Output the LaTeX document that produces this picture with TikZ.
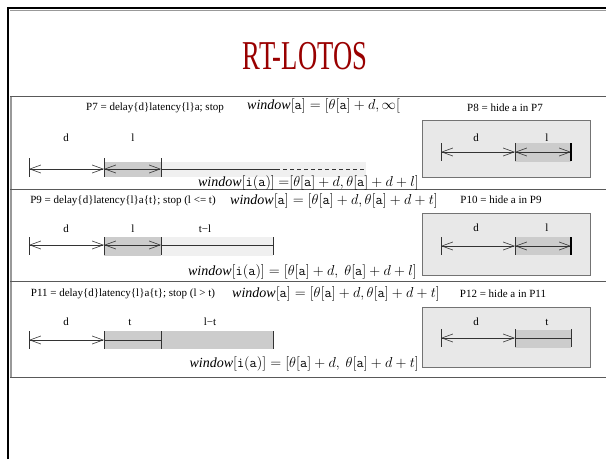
\documentclass[tikz,border=0pt]{standalone}
\usepackage{fontspec}
\setmainfont{Liberation Serif}
\newfontfamily\titlefont[FakeStretch=0.65]{Liberation Serif}
\usetikzlibrary{arrows.meta}
\definecolor{titlered}{RGB}{153,0,0}
\tikzset{tick/.style={draw=black!80,line width=0.7pt}}
\tikzset{endtick/.style={draw=black,line width=1.6pt}}
\tikzset{span/.style={draw=black!80,line width=0.6pt,{Straight Barb[length=11pt,width=8pt]}-{Straight Barb[length=11pt,width=8pt]}}}
\tikzset{plain/.style={draw=black!80,line width=0.6pt}}
\tikzset{lab/.style={font=\fontsize{11}{13}\selectfont,inner sep=1pt}}
\tikzset{eqn/.style={font=\fontsize{14}{16}\selectfont,inner sep=1pt}}
\tikzset{hidebox/.style={draw=black!55,fill=black!9,line width=1pt,inner sep=0pt}}
\tikzset{lightbar/.style={fill=black!6}}
\tikzset{darkbar/.style={fill=black!20}}
\tikzset{sepline/.style={draw=black!65,line width=1pt}}

\begin{document}
\begin{tikzpicture}[x=1pt,y=-1pt]
\useasboundingbox (0,0) rectangle (606,459);
% slide frame
\draw[black!40,line width=1pt] (10,10) -- (606,10);
\draw[line width=2.5pt] (8,459) -- (8,8) -- (606,8);
\node[text=titlered,font=\titlefont\fontsize{41}{41}\selectfont] (title) at (305,56) {RT-LOTOS};

% table lines
\draw[black!40,line width=2pt] (11,96) -- (11,377);
\foreach \y in {96,189,281,377} \draw[sepline] (10,\y) -- (606,\y);

% row 1: P7 / P8
\node[lab] (p7) at (155,108) {P7 = delay\{d\}latency\{l\}a; stop};
\node[eqn,anchor=west] (w7) at (246,106) {$\mathit{window}[\mathtt{a}] = [\theta[\mathtt{a}] + d, \infty[$};
\node[lab] (p8) at (505,108) {P8 = hide a in P7};
\fill[lightbar] (161,162) rectangle (366,177);
\fill[darkbar] (104,162) rectangle (161,177);
\coordinate (pa) at (29,169);
\coordinate (pb) at (104,169);
\coordinate (pc) at (161,169);
\coordinate (pd) at (276,169);
\coordinate (pe) at (366,169);
\draw[span] (pa) -- (pb);
\draw[span] (pb) -- (pc);
\draw[plain] (pc) -- (pd);
\draw[plain,dashed,dash pattern=on 4pt off 3pt] (pd) -- (pe);
\foreach \c in {pa,pb,pc} \draw[tick] (\c) ++(0,-11) -- ++(0,19);
\node[lab] (d7) at (66,138) {d};
\node[lab] (l7) at (133,138) {l};
\node[eqn,anchor=east] (i7) at (420,183) {$\mathit{window}[\mathtt{i}(\mathtt{a})]\ {=}[\theta[\mathtt{a}] + d, \theta[\mathtt{a}] + d + l]$};
\node[hidebox,minimum width=168pt,minimum height=57pt] (h8) at (506,148.5) {};
\fill[darkbar] (515,143) rectangle (571,162);
\coordinate (qa) at (441,152);
\coordinate (qb) at (515,152);
\coordinate (qc) at (571,152);
\draw[span] (qa) -- (qb);
\draw[span] (qb) -- (qc);
\foreach \c in {qa,qb} \draw[tick] (\c) ++(0,-9) -- ++(0,18);
\draw[endtick] (qc) ++(0,-9) -- ++(0,18);
\node[lab] (d8) at (476,138) {d};
\node[lab] (l8) at (547,138) {l};

% row 2: P9 / P10
\node[lab] (p9) at (123,201) {P9 = delay\{d\}latency\{l\}a\{t\}; stop (l <= t)};
\node[eqn,anchor=west] (w9) at (229,201) {$\mathit{window}[\mathtt{a}] = [\theta[\mathtt{a}] + d, \theta[\mathtt{a}] + d + t]$};
\node[lab] (p10) at (501,200) {P10 = hide a in P9};
\fill[lightbar] (161,237) rectangle (273,256);
\fill[darkbar] (104,237) rectangle (161,256);
\coordinate (ra) at (29,245);
\coordinate (rb) at (104,245);
\coordinate (rc) at (161,245);
\coordinate (rd) at (273,245);
\draw[span] (ra) -- (rb);
\draw[span] (rb) -- (rc);
\draw[plain] (rc) -- (rd);
\foreach \c in {ra,rb,rc,rd} \draw[tick] (\c) ++(0,-8) -- ++(0,18);
\node[lab] (d9) at (66,229) {d};
\node[lab] (l9) at (133,229) {l};
\node[lab] (t9) at (205,229) {t−l};
\node[eqn,anchor=east] (i9) at (418,272) {$\mathit{window}[\mathtt{i}(\mathtt{a})] = [\theta[\mathtt{a}] + d,\ \theta[\mathtt{a}] + d + l]$};
\node[hidebox,minimum width=168pt,minimum height=62pt] (h10) at (506,244) {};
\fill[darkbar] (515,237) rectangle (571,255);
\coordinate (sa) at (441,246);
\coordinate (sb) at (515,246);
\coordinate (sc) at (571,246);
\draw[span] (sa) -- (sb);
\draw[span] (sb) -- (sc);
\foreach \c in {sa,sb} \draw[tick] (\c) ++(0,-9) -- ++(0,18);
\draw[endtick] (sc) ++(0,-9) -- ++(0,18);
\node[lab] (d10) at (476,228) {d};
\node[lab] (l10) at (547,228) {l};

% row 3: P11 / P12
\node[lab] (p11) at (123,294) {P11 = delay\{d\}latency\{l\}a\{t\}; stop (l > t)};
\node[eqn,anchor=west] (w11) at (231,294) {$\mathit{window}[\mathtt{a}] = [\theta[\mathtt{a}] + d, \theta[\mathtt{a}] + d + t]$};
\node[lab] (p12) at (503,294) {P12 = hide a in P11};
\fill[darkbar] (104,331) rectangle (273,349);
\coordinate (ta) at (29,340);
\coordinate (tb) at (104,340);
\coordinate (tc) at (161,340);
\coordinate (td) at (273,340);
\draw[span] (ta) -- (tb);
\draw[plain] (tb) -- (tc);
\foreach \c in {ta,tb,tc,td} \draw[tick] (\c) ++(0,-9) -- ++(0,18);
\node[lab] (d11) at (66,322) {d};
\node[lab] (t11) at (130,322) {t};
\node[lab] (l11) at (210,322) {l−t};
\node[eqn,anchor=east] (i11) at (420,364) {$\mathit{window}[\mathtt{i}(\mathtt{a})] = [\theta[\mathtt{a}] + d,\ \theta[\mathtt{a}] + d + t]$};
\node[hidebox,minimum width=168pt,minimum height=60pt] (h12) at (506,337) {};
\fill[darkbar] (515,330) rectangle (571,348);
\coordinate (ua) at (441,338);
\coordinate (ub) at (515,338);
\coordinate (uc) at (571,338);
\draw[span] (ua) -- (ub);
\draw[plain] (ub) -- (uc);
\foreach \c in {ua,ub,uc} \draw[tick] (\c) ++(0,-9) -- ++(0,18);
\node[lab] (d12) at (476,322) {d};
\node[lab] (t12) at (547,322) {t};
\end{tikzpicture}
\end{document}
